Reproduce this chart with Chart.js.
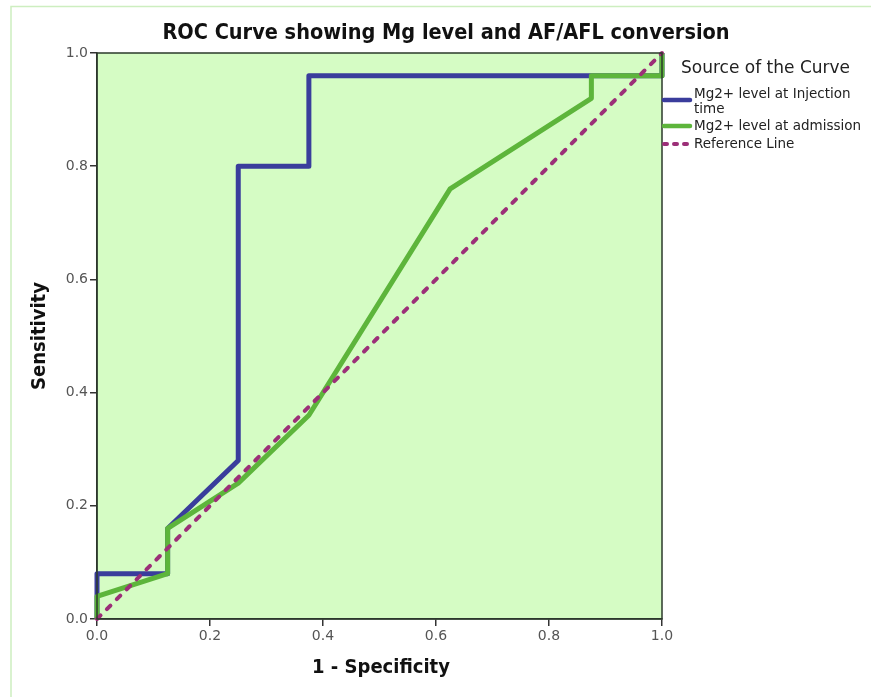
<!DOCTYPE html>
<html><head><meta charset="utf-8">
<script src="https://cdn.jsdelivr.net/npm/chart.js@4/dist/chart.umd.min.js"></script>
<style>html,body{margin:0;padding:0;background:#fff;}#wrap{width:871px;height:697px;position:relative;}</style>
</head><body><div id="wrap"><canvas id="c" width="871" height="697"></canvas></div>
<script>
const titleText = "ROC Curve showing Mg level and AF/AFL conversion";
const xTitle = "1 - Specificity";
const yTitle = "Sensitivity";
const legendTitle = "Source of the Curve";
const seriesNames = ["Mg2+ level at Injection time", "Mg2+ level at admission", "Reference Line"];
const injX = [0, 0, 0.125, 0.125, 0.25, 0.25, 0.375, 0.375, 1, 1];
const injY = [0, 0.08, 0.08, 0.16, 0.28, 0.80, 0.80, 0.96, 0.96, 1];
const admX = [0, 0, 0.125, 0.125, 0.25, 0.375, 0.625, 0.875, 0.875, 1, 1];
const admY = [0, 0.04, 0.08, 0.16, 0.24, 0.36, 0.76, 0.92, 0.96, 0.96, 1];
const refX = [0, 1];
const refY = [0, 1];
const tickVals = [0, 0.2, 0.4, 0.6, 0.8, 1.0];

const BLUE = "#3a3d9c", GREEN = "#5db53b", PURPLE = "#9c2f78";
const pts = (xs, ys) => xs.map((x, i) => ({x: x, y: ys[i]}));
const FONT = "'DejaVu Sans Condensed','DejaVu Sans',sans-serif";
const FONT2 = "'DejaVu Sans',sans-serif";

const deco = {
  id: 'deco',
  beforeDraw(chart) {
    const {ctx, chartArea: a} = chart;
    ctx.save();
    ctx.strokeStyle = "#cdeec0"; ctx.lineWidth = 1.5;
    ctx.beginPath(); ctx.moveTo(11, 697); ctx.lineTo(11, 6.5); ctx.lineTo(871, 6.5); ctx.stroke();
    ctx.fillStyle = "#d5fcc4";
    ctx.fillRect(a.left, a.top, a.right - a.left, a.bottom - a.top);
    ctx.restore();
  },
  afterDraw(chart) {
    const {ctx, chartArea: a} = chart;
    ctx.save();
    ctx.strokeStyle = "#2b3a2b"; ctx.lineWidth = 1.5;
    ctx.strokeRect(a.left, a.top, a.right - a.left, a.bottom - a.top);
    ctx.fillStyle = "#111";
    ctx.textAlign = "center"; ctx.textBaseline = "middle";
    ctx.font = "bold 21.5px " + FONT;
    ctx.fillText(titleText, 446, 33);
    ctx.font = "bold 20px " + FONT;
    ctx.fillText(xTitle, 381, 668);
    ctx.save(); ctx.translate(40, 336); ctx.rotate(-Math.PI/2);
    ctx.fillText(yTitle, 0, 0); ctx.restore();
    // legend
    ctx.textAlign = "left";
    ctx.fillStyle = "#222";
    ctx.font = "17px " + FONT2;
    ctx.fillText(legendTitle, 681, 69);
    ctx.font = "13.5px " + FONT2;
    const L0 = 664, L1 = 694;
    ctx.lineWidth = 4.5; ctx.lineCap = "round";
    ctx.strokeStyle = BLUE; ctx.beginPath(); ctx.moveTo(L0, 100); ctx.lineTo(L1 - 4, 100); ctx.stroke();
    ctx.fillText("Mg2+ level at Injection", L1, 94);
    ctx.fillText("time", L1, 109);
    ctx.strokeStyle = GREEN; ctx.beginPath(); ctx.moveTo(L0, 126); ctx.lineTo(L1 - 4, 126); ctx.stroke();
    ctx.fillText(seriesNames[1], L1, 126);
    ctx.strokeStyle = PURPLE; ctx.setLineDash([3, 7]); ctx.lineWidth = 4;
    ctx.beginPath(); ctx.moveTo(L0, 144); ctx.lineTo(L1 - 4, 144); ctx.stroke();
    ctx.setLineDash([]);
    ctx.fillText(seriesNames[2], L1, 144);
    ctx.restore();
  }
};

new Chart(document.getElementById('c'), {
  type: 'scatter',
  data: {
    datasets: [
      {label: seriesNames[2], data: pts(refX, refY), showLine: true, borderColor: PURPLE, borderWidth: 4,
       borderDash: [5, 9], borderCapStyle: 'round', pointRadius: 0, clip: 5, order: 1},
      {label: seriesNames[1], data: pts(admX, admY), showLine: true, borderColor: GREEN, borderWidth: 5,
       pointRadius: 0, clip: 5, borderJoinStyle: 'round', order: 2},
      {label: seriesNames[0], data: pts(injX, injY), showLine: true, borderColor: BLUE, borderWidth: 5,
       pointRadius: 0, clip: 5, borderJoinStyle: 'round', order: 3}
    ]
  },
  options: {
    responsive: false, animation: false, devicePixelRatio: 1,
    layout: {padding: {left: 0, right: 209, top: 53, bottom: 0}},
    plugins: {legend: {display: false}, tooltip: {enabled: false}, title: {display: false}},
    scales: {
      x: {type: 'linear', min: 0, max: 1,
          afterFit(s) { s.height = 78; },
          afterBuildTicks(s) { s.ticks = tickVals.map(v => ({value: v})); },
          grid: {drawOnChartArea: false, drawTicks: true, tickLength: 7, color: "#333", lineWidth: 1.5},
          border: {display: true, color: "#333", width: 1.5},
          ticks: {color: "#555", font: {family: FONT2, size: 14}, padding: 2, callback: v => v.toFixed(1), maxRotation: 0}},
      y: {type: 'linear', min: 0, max: 1,
          afterFit(s) { s.width = 97; },
          afterBuildTicks(s) { s.ticks = tickVals.map(v => ({value: v})); },
          grid: {drawOnChartArea: false, drawTicks: true, tickLength: 7, color: "#333", lineWidth: 1.5},
          border: {display: true, color: "#333", width: 1.5},
          ticks: {color: "#555", font: {family: FONT2, size: 14}, padding: 2, callback: v => v.toFixed(1)}}
    }
  },
  plugins: [deco]
});
</script></body></html>
